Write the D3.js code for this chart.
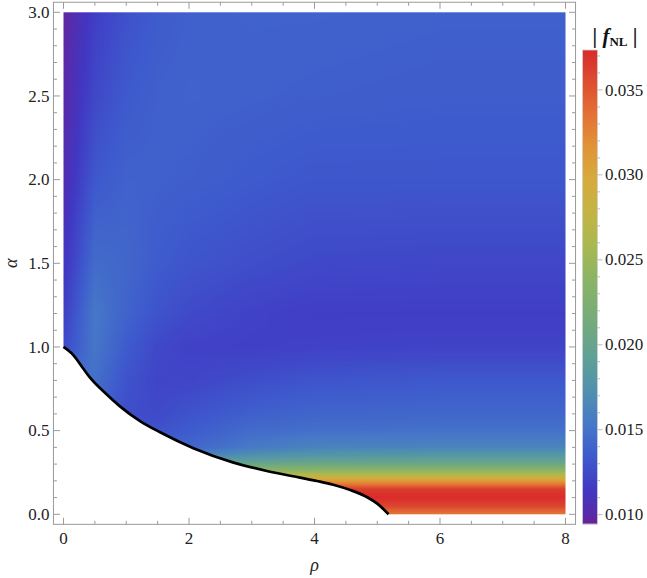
<!DOCTYPE html>
<html><head><meta charset="utf-8">
<script src="https://cdn.jsdelivr.net/npm/d3@7"></script>
<style>
body{margin:0;background:#fff}
svg{display:block}
svg text{font-family:"Times New Roman","Liberation Serif",Times,serif}
</style>
</head><body>
<svg id="chart" width="647" height="578"></svg>
<script>
// ---------------- data ----------------
const rhoGrid = [0, 0.5, 1, 1.5, 2, 3, 4, 6, 8];
const alphaGrid = [0, 0.05, 0.1, 0.15, 0.2, 0.25, 0.3, 0.35, 0.4, 0.5, 0.6, 0.8, 1.0, 1.2, 1.5, 2.0, 2.5, 3.0];
// |f_NL| values: one row per alpha (ascending), one column per rho
const fnlValues = [
  [0.0330, 0.0330, 0.0330, 0.0330, 0.0330, 0.0330, 0.0330, 0.0330, 0.0330],
  [0.0360, 0.0360, 0.0360, 0.0360, 0.0360, 0.0360, 0.0360, 0.0360, 0.0360],
  [0.0372, 0.0372, 0.0372, 0.0372, 0.0372, 0.0372, 0.0372, 0.0372, 0.0372],
  [0.0364, 0.0364, 0.0364, 0.0364, 0.0364, 0.0364, 0.0364, 0.0364, 0.0364],
  [0.0310, 0.0310, 0.0310, 0.0310, 0.0310, 0.0310, 0.0310, 0.0310, 0.0310],
  [0.0250, 0.0250, 0.0250, 0.0250, 0.0250, 0.0250, 0.0250, 0.0250, 0.0250],
  [0.0200, 0.0200, 0.0200, 0.0198, 0.0195, 0.0202, 0.0206, 0.0206, 0.0206],
  [0.0170, 0.0170, 0.0170, 0.0165, 0.0162, 0.0174, 0.0180, 0.0182, 0.0182],
  [0.0145, 0.0145, 0.0145, 0.0142, 0.0142, 0.0155, 0.0162, 0.0163, 0.0163],
  [0.0135, 0.0135, 0.0130, 0.0130, 0.0135, 0.0145, 0.0148, 0.0149, 0.0149],
  [0.0140, 0.0140, 0.0127, 0.0125, 0.0130, 0.0138, 0.0141, 0.0142, 0.0142],
  [0.0148, 0.0148, 0.0130, 0.0122, 0.0122, 0.0127, 0.0131, 0.0133, 0.0133],
  [0.0125, 0.0152, 0.0135, 0.0124, 0.0120, 0.0119, 0.0120, 0.0121, 0.0121],
  [0.0118, 0.0153, 0.0140, 0.0130, 0.0125, 0.0120, 0.0118, 0.0118, 0.0118],
  [0.0111, 0.0145, 0.0142, 0.0135, 0.0131, 0.0127, 0.0124, 0.0123, 0.0123],
  [0.0104, 0.0133, 0.0139, 0.0138, 0.0137, 0.0134, 0.0132, 0.0132, 0.0132],
  [0.0100, 0.0124, 0.0134, 0.0138, 0.0139, 0.0138, 0.0137, 0.0136, 0.0136],
  [0.0097, 0.0118, 0.0129, 0.0135, 0.0138, 0.0139, 0.0139, 0.0138, 0.0138]
];
// boundary curve (below it: no solution, white)
const boundaryRho   = [0, 0.16, 0.32, 0.42, 0.69, 0.90, 1.22, 1.54, 2.07, 2.71, 3.24, 3.77, 4.04, 4.30, 4.57, 4.84, 5.00, 5.18];
const boundaryAlpha = [1.0, 0.95, 0.868, 0.818, 0.716, 0.645, 0.557, 0.49, 0.395, 0.309, 0.259, 0.219, 0.199, 0.177, 0.145, 0.102, 0.064, 0.0];
const xTickValues = [0, 2, 4, 6, 8];
const yTickValues = [0, 0.5, 1.0, 1.5, 2.0, 2.5, 3.0];
const cbTickValues = [0.010, 0.015, 0.020, 0.025, 0.030, 0.035];
const fnlRange = [0.00945, 0.03735];
// colour map (Mathematica-like "Rainbow"), value -> colour
const cmapValues = [0.0093, 0.0100, 0.0114, 0.0134, 0.0153, 0.0173, 0.0192, 0.0212, 0.0239, 0.0259, 0.0278, 0.0298, 0.0318, 0.0337, 0.0357, 0.0375];
const cmapColors = ["#6a2296", "#5a2aa8", "#4137c3", "#3e5acd", "#4678c8", "#5091af", "#5fa096", "#73aa7d", "#8cb464", "#aab950", "#c3b443", "#d7aa3c", "#e19137", "#e46e34", "#dc4a30", "#d9262a"];

// ---------------- layout ----------------
const svg = d3.select("#chart");
const x = d3.scaleLinear().domain([0, 8]).range([63.5, 565.5]);
const y = d3.scaleLinear().domain([0, 3]).range([514.3, 12.3]);
const xFrame = [x(-0.16), x(8.16)];
const yFrame = [y(-0.06), y(3.06)];
const color = d3.scaleLinear().domain(cmapValues).range(cmapColors).interpolate(d3.interpolateRgb).clamp(true);

// ---------------- density field ----------------
function fieldAt(r, a) {
  let i = d3.bisectRight(rhoGrid, r) - 1; i = Math.max(0, Math.min(rhoGrid.length - 2, i));
  let j = d3.bisectRight(alphaGrid, a) - 1; j = Math.max(0, Math.min(alphaGrid.length - 2, j));
  const tr = Math.max(0, Math.min(1, (r - rhoGrid[i]) / (rhoGrid[i + 1] - rhoGrid[i])));
  const ta = Math.max(0, Math.min(1, (a - alphaGrid[j]) / (alphaGrid[j + 1] - alphaGrid[j])));
  const v00 = fnlValues[j][i], v10 = fnlValues[j][i + 1], v01 = fnlValues[j + 1][i], v11 = fnlValues[j + 1][i + 1];
  return (v00 * (1 - tr) + v10 * tr) * (1 - ta) + (v01 * (1 - tr) + v11 * tr) * ta;
}
const W = Math.round(x(8) - x(0)), H = Math.round(y(0) - y(3));
const cv = document.createElement("canvas"); cv.width = W; cv.height = H;
const ctx = cv.getContext("2d");
const img = ctx.createImageData(W, H);
for (let py = 0; py < H; py++) {
  const a = y.invert(y(3) + (py + 0.5) * (y(0) - y(3)) / H);
  for (let px = 0; px < W; px++) {
    const r = x.invert(x(0) + (px + 0.5) * (x(8) - x(0)) / W);
    const c = d3.rgb(color(fieldAt(r, a)));
    const k = (py * W + px) * 4;
    img.data[k] = c.r; img.data[k + 1] = c.g; img.data[k + 2] = c.b; img.data[k + 3] = 255;
  }
}
ctx.putImageData(img, 0, 0);
svg.append("image").attr("x", x(0)).attr("y", y(3)).attr("width", x(8) - x(0)).attr("height", y(0) - y(3))
  .attr("preserveAspectRatio", "none").attr("href", cv.toDataURL());

// mask below boundary
const bpts = boundaryRho.map((r, i) => [r, boundaryAlpha[i]]);
svg.append("path").datum(bpts)
  .attr("d", d3.area().x(d => x(d[0])).y0(y(0) + 1).y1(d => y(d[1])).curve(d3.curveMonotoneX))
  .attr("fill", "#fff");
svg.append("rect").attr("x", x(0) - 1).attr("y", y(1)).attr("width", 1.5).attr("height", y(0) - y(1) + 1).attr("fill", "#fff");
svg.append("path").datum(bpts)
  .attr("d", d3.line().x(d => x(d[0])).y(d => y(d[1])).curve(d3.curveMonotoneX))
  .attr("fill", "none").attr("stroke", "#000").attr("stroke-width", 2.7).attr("stroke-linecap", "butt");

// ---------------- frame & ticks ----------------
const frameColor = "#9a9a9a";
const g = svg.append("g");
g.append("rect").attr("x", xFrame[0]).attr("y", yFrame[1]).attr("width", xFrame[1] - xFrame[0]).attr("height", yFrame[0] - yFrame[1])
  .attr("fill", "none").attr("stroke", frameColor).attr("stroke-width", 1);
const xMinor = d3.range(0, 8.001, 0.5);
const yMinor = d3.range(0, 3.001, 0.1);
function tickLines(vals, len, isX) {
  vals.forEach(v => {
    if (isX) {
      const px = x(v);
      g.append("line").attr("x1", px).attr("x2", px).attr("y1", yFrame[0]).attr("y2", yFrame[0] - len).attr("stroke", frameColor);
      g.append("line").attr("x1", px).attr("x2", px).attr("y1", yFrame[1]).attr("y2", yFrame[1] + len).attr("stroke", frameColor);
    } else {
      const py = y(v);
      g.append("line").attr("y1", py).attr("y2", py).attr("x1", xFrame[0]).attr("x2", xFrame[0] + len).attr("stroke", frameColor);
      g.append("line").attr("y1", py).attr("y2", py).attr("x1", xFrame[1]).attr("x2", xFrame[1] - len).attr("stroke", frameColor);
    }
  });
}
tickLines(xMinor.filter(v => !xTickValues.includes(v)), 3.5, true);
tickLines(xTickValues, 6.5, true);
tickLines(yMinor.filter(v => !yTickValues.some(t => Math.abs(t - v) < 1e-6)), 3.5, false);
tickLines(yTickValues, 6.5, false);

g.selectAll(".xl").data(xTickValues).enter().append("text")
  .attr("x", d => x(d)).attr("y", yFrame[0] + 20).attr("text-anchor", "middle")
  .attr("font-size", 17).attr("fill", "#222").text(d => d3.format("d")(d));
g.selectAll(".yl").data(yTickValues).enter().append("text")
  .attr("x", xFrame[0] - 4).attr("y", d => y(d)).attr("dy", "0.33em").attr("text-anchor", "end")
  .attr("font-size", 17).attr("fill", "#222").text(d => d3.format(".1f")(d));

svg.append("text").attr("x", (x(0) + x(8)) / 2).attr("y", 571).attr("text-anchor", "middle")
  .attr("font-size", 18).attr("font-style", "italic").attr("fill", "#222").text("ρ");
svg.append("text").attr("transform", `translate(17,${(y(0) + y(3)) / 2}) rotate(-90)`).attr("text-anchor", "middle")
  .attr("font-size", 18).attr("font-style", "italic").attr("fill", "#222").text("α");

// ---------------- colour bar ----------------
const cbX = 582.5, cbW = 15;
const cbY = d3.scaleLinear().domain(fnlRange).range([524, 50]);
const cb = svg.append("g");
const cbRows = d3.range(Math.floor(cbY(fnlRange[1])), Math.ceil(cbY(fnlRange[0])));
cb.selectAll("rect.s").data(cbRows).enter().append("rect")
  .attr("x", cbX).attr("y", d => d).attr("width", cbW).attr("height", 1.2)
  .attr("fill", d => color(cbY.invert(d + 0.5)));
cb.append("rect").attr("x", cbX).attr("y", cbY(fnlRange[1])).attr("width", cbW).attr("height", cbY(fnlRange[0]) - cbY(fnlRange[1]))
  .attr("fill", "none").attr("stroke", "#d0d0d0").attr("stroke-width", 0.8);
const cbMinor = d3.range(0.010, 0.0375, 0.001);
cbMinor.forEach(v => {
  const major = cbTickValues.some(t => Math.abs(t - v) < 1e-7);
  cb.append("line").attr("x1", cbX + cbW).attr("x2", cbX + cbW + (major ? 5 : 2.5))
    .attr("y1", cbY(v)).attr("y2", cbY(v)).attr("stroke", "#aaa").attr("stroke-width", 0.8);
});
cb.selectAll("text.cb").data(cbTickValues).enter().append("text")
  .attr("x", 605).attr("y", d => cbY(d)).attr("dy", "0.33em").attr("font-size", 17).attr("fill", "#222")
  .text(d => d3.format(".3f")(d));
const title = svg.append("text").attr("x", 615).attr("y", 43).attr("text-anchor", "middle")
  .attr("font-size", 21).attr("font-weight", "bold").attr("fill", "#111");
title.append("tspan").text("| ");
title.append("tspan").attr("font-style", "italic").text("f");
title.append("tspan").attr("font-size", 13).attr("dy", 3).text("NL");
title.append("tspan").attr("dy", -3).text(" |");
</script>
</body></html>
